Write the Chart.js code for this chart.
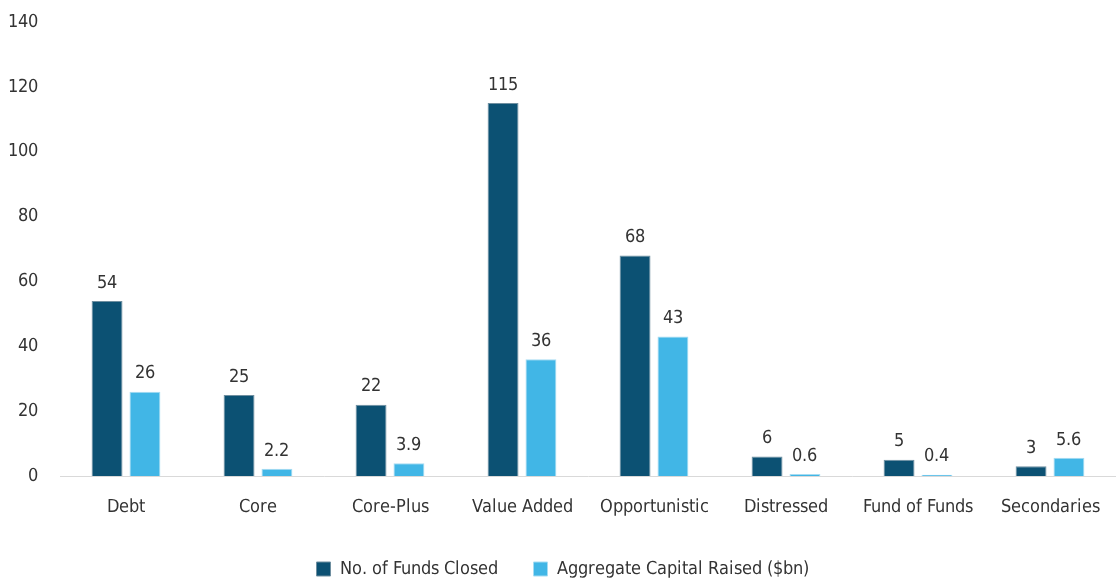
<!DOCTYPE html>
<html>
<head>
<meta charset="utf-8">
<script src="https://cdn.jsdelivr.net/npm/chart.js@4/dist/chart.umd.min.js"></script>
<style>
    @font-face {
        font-family: "NarrowFace";
        src: local("Liberation Sans Narrow"), local("LiberationSansNarrow"), local("LiberationSansNarrow-Regular"),
             local("DejaVu Sans Condensed"), local("DejaVuSansCondensed");
    }
    html, body { margin: 0; padding: 0; background: #fff; }
    #wrap { position: relative; width: 1116px; height: 583px; }
</style>
</head>
<body>
<div id="wrap"><canvas id="fundsChart"></canvas></div>
<script>
const categories = ["Debt", "Core", "Core-Plus", "Value Added", "Opportunistic", "Distressed", "Fund of Funds", "Secondaries"];
const fundsClosed = [54, 25, 22, 115, 68, 6, 5, 3];
const capitalRaised = [26, 2.2, 3.9, 36, 43, 0.6, 0.4, 5.6];
const yTicks = [0, 20, 40, 60, 80, 100, 120, 140];

const FONT = "NarrowFace, sans-serif";

/*
=====================================
VALUE LABELS
=====================================
*/

const valueLabels = {
    id: "valueLabels",
    afterDatasetsDraw(chart) {
        const ctx = chart.ctx;
        ctx.save();
        ctx.font = "18px " + FONT;
        ctx.fillStyle = "#333333";
        ctx.textAlign = "center";
        ctx.textBaseline = "bottom";
        chart.data.datasets.forEach((ds, i) => {
            chart.getDatasetMeta(i).data.forEach((bar, j) => {
                ctx.fillText(String(ds.data[j]), bar.x, bar.y - 9);
            });
        });
        ctx.restore();
    }
};

function draw() {
    new Chart(document.getElementById("fundsChart"), {
        type: "bar",
        data: {
            labels: categories,
            datasets: [
                {
                    label: "No. of Funds Closed",
                    data: fundsClosed,
                    backgroundColor: "#0c5173",
                    borderColor: "#6f8fa0",
                    borderWidth: 1
                },
                {
                    label: "Aggregate Capital Raised ($bn)",
                    data: capitalRaised,
                    backgroundColor: "#41b6e6",
                    borderColor: "#a6dcf2",
                    borderWidth: 1
                }
            ]
        },
        options: {
            responsive: true,
            maintainAspectRatio: false,
            animation: false,
            categoryPercentage: 0.574,
            barPercentage: 0.816,
            layout: {
                padding: { top: 22, right: -9, left: 0, bottom: -5 }
            },
            plugins: {
                legend: {
                    position: "bottom",
                    labels: {
                        font: { family: FONT, size: 18, lineHeight: 1 },
                        color: "#333333",
                        boxWidth: 14,
                        boxHeight: 14,
                        padding: 36
                    }
                },
                tooltip: { enabled: false }
            },
            scales: {
                x: {
                    grid: { display: false, drawTicks: false },
                    border: { display: true, color: "#d9d9d9", width: 1 },
                    ticks: {
                        font: { family: FONT, size: 18 },
                        color: "#333333",
                        padding: 21,
                        maxRotation: 0
                    },
                    afterFit: scale => {
                        scale.height = 48;
                        scale.paddingLeft = 0;
                        scale.paddingRight = 0;
                    }
                },
                y: {
                    min: 0,
                    max: 140,
                    afterBuildTicks: axis => {
                        axis.ticks = yTicks.map(v => ({ value: v }));
                    },
                    grid: { display: false, drawTicks: false },
                    border: { display: false },
                    ticks: {
                        font: { family: FONT, size: 18 },
                        color: "#333333",
                        padding: 22
                    },
                    afterFit: scale => {
                        scale.width = 60;
                        scale.paddingTop = 0;
                        scale.paddingBottom = 0;
                    }
                }
            }
        },
        plugins: [valueLabels]
    });
}

document.fonts.load("18px NarrowFace").then(draw, draw);
</script>
</body>
</html>
